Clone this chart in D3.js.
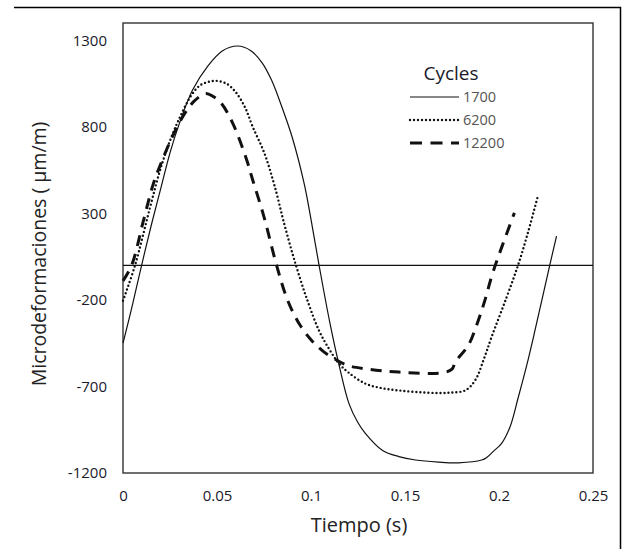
<!DOCTYPE html>
<html>
<head>
<meta charset="utf-8">
<script src="https://cdn.jsdelivr.net/npm/d3@7"></script>
<style>
  html, body { margin: 0; padding: 0; background: #fff; }
  svg { display: block; font-family: 'Open Sans', sans-serif; }
</style>
</head>
<body>
<div id="container"></div>
<script>
// datos
const cycles = ['1700', '6200', '12200']

const t1700 = [0, 0.005, 0.0099, 0.015, 0.02, 0.025, 0.03, 0.037, 0.045, 0.053, 0.061, 0.068, 0.074, 0.079, 0.085, 0.09, 0.0964, 0.1, 0.1043, 0.11, 0.115, 0.1202, 0.125, 0.129, 0.1379, 0.1467, 0.1556, 0.1678, 0.1785, 0.1908, 0.1935, 0.197, 0.2014, 0.206, 0.2103, 0.2147, 0.2191, 0.2271, 0.2306]
const v1700 = [-450, -230, 0, 230, 440, 650, 820, 1013, 1150, 1240, 1267, 1240, 1170, 1070, 900, 740, 470, 265, 0, -330, -580, -799, -910, -972, -1068, -1105, -1125, -1137, -1141, -1125, -1110, -1075, -1029, -930, -761, -580, -378, 6, 169]

const t6200 = [0, 0.0064, 0.0143, 0.02, 0.025, 0.03, 0.0364, 0.041, 0.0455, 0.0496, 0.055, 0.06, 0.065, 0.069, 0.0752, 0.0805, 0.086, 0.092, 0.098, 0.1043, 0.11, 0.115, 0.12, 0.129, 0.1379, 0.1467, 0.1573, 0.1679, 0.175, 0.182, 0.1873, 0.192, 0.196, 0.204, 0.2103, 0.2156, 0.2205]
const v6200 = [-205, 0, 331, 560, 720, 850, 983, 1040, 1060, 1066, 1050, 1000, 910, 800, 648, 464, 230, 0, -200, -378, -490, -569, -620, -684, -710, -723, -733, -738, -735, -723, -665, -540, -416, -186, 6, 197, 393]

const t12200 = [0, 0.0046, 0.0108, 0.016, 0.0213, 0.027, 0.033, 0.038, 0.044, 0.048, 0.0523, 0.0584, 0.0655, 0.069, 0.075, 0.0817, 0.0875, 0.0938, 0.1, 0.106, 0.114, 0.12, 0.129, 0.1467, 0.1697, 0.175, 0.1767, 0.1838, 0.188, 0.192, 0.197, 0.2082]
const v12200 = [-90, 0, 255, 466, 619, 760, 880, 950, 993, 975, 936, 820, 619, 493, 280, 0, -200, -339, -430, -493, -550, -580, -598, -617, -621, -600, -560, -460, -349, -220, -33, 303]

const xTicks = [0, 0.05, 0.1, 0.15, 0.2, 0.25]
const yTicks = [-1200, -700, -200, 300, 800, 1300]

const width = 626
const height = 549
const box = { left: 123, right: 593, top: 23, bottom: 473 }

const svg = d3.select('#container')
  .append('svg')
  .attr('width', width)
  .attr('height', height)

const x = d3.scaleLinear().domain([0, 0.25]).range([box.left, box.right])
const y = d3.scaleLinear().domain([-1200, 1400]).range([box.bottom, box.top])

// marco exterior (solo arriba y derecha)
svg.append('path')
  .attr('d', `M14,7.5H620.5V549`)
  .attr('fill', 'none')
  .attr('stroke', '#000')
  .attr('stroke-width', 1.5)

// área de trazado
svg.append('rect')
  .attr('x', box.left)
  .attr('y', box.top)
  .attr('width', box.right - box.left)
  .attr('height', box.bottom - box.top)
  .attr('fill', 'none')
  .attr('stroke', '#333')
  .attr('stroke-width', 1.4)

// línea de cero
svg.append('line')
  .attr('x1', box.left).attr('x2', box.right)
  .attr('y1', y(0)).attr('y2', y(0))
  .attr('stroke', '#111')
  .attr('stroke-width', 1.3)

// etiquetas de ejes (sin marcas, como en Excel)
const xAxis = d3.axisBottom(x).tickValues(xTicks).tickSize(0).tickPadding(17)
  .tickFormat(d => String(d))
svg.append('g')
  .attr('transform', `translate(0,${box.bottom})`)
  .call(xAxis)
  .call(g => g.select('.domain').remove())
  .selectAll('text')
  .attr('font-size', 15)
  .attr('font-family', 'Open Sans, sans-serif')
  .attr('fill', '#1a1a2a')

const yAxis = d3.axisLeft(y).tickValues(yTicks).tickSize(0).tickPadding(16)
  .tickFormat(d => String(d))
svg.append('g')
  .attr('transform', `translate(${box.left},0)`)
  .call(yAxis)
  .call(g => g.select('.domain').remove())
  .selectAll('text')
  .attr('font-size', 15)
  .attr('font-family', 'Open Sans, sans-serif')
  .attr('fill', '#1a1a2a')

svg.append('text')
  .attr('x', 359)
  .attr('y', 532)
  .attr('text-anchor', 'middle')
  .attr('font-size', 20)
  .attr('fill', '#222')
  .text('Tiempo (s)')

svg.append('text')
  .attr('transform', 'translate(46,254) rotate(-90)')
  .attr('text-anchor', 'middle')
  .attr('font-size', 19.5)
  .attr('fill', '#222')
  .text('Microdeformaciones ( µm/m)')

// series
const styles = [
  { dash: null, w: 1.2, cap: 'butt' },
  { dash: '0,4', w: 2.4, cap: 'round' },
  { dash: '11,8', w: 3, cap: 'butt' }
]
const seriesT = [t1700, t6200, t12200]
const seriesV = [v1700, v6200, v12200]

const line = d3.line()
  .x(d => x(d[0]))
  .y(d => y(d[1]))
  .curve(d3.curveCatmullRom.alpha(0.5))

seriesT.forEach((ts, i) => {
  const pts = ts.map((t, j) => [t, seriesV[i][j]])
  svg.append('path')
    .datum(pts)
    .attr('d', line)
    .attr('fill', 'none')
    .attr('stroke', '#111')
    .attr('stroke-width', styles[i].w)
    .attr('stroke-linecap', styles[i].cap)
    .attr('stroke-dasharray', styles[i].dash)
})

// leyenda
const legend = svg.append('g')
legend.append('text')
  .attr('x', 451)
  .attr('y', 80)
  .attr('text-anchor', 'middle')
  .attr('font-size', 19)
  .attr('fill', '#1a1a2a')
  .text('Cycles')

cycles.forEach((c, i) => {
  const ly = 97 + i * 23
  legend.append('line')
    .attr('x1', 410).attr('x2', 459)
    .attr('y1', ly).attr('y2', ly)
    .attr('stroke', '#111')
    .attr('stroke-width', styles[i].w)
    .attr('stroke-linecap', styles[i].cap)
    .attr('stroke-dasharray', i === 2 ? '12,8.5' : styles[i].dash)
  legend.append('text')
    .attr('x', 463)
    .attr('y', ly + 5)
    .attr('font-size', 14.5)
    .attr('fill', '#555')
    .text(c)
})
</script>
</body>
</html>
